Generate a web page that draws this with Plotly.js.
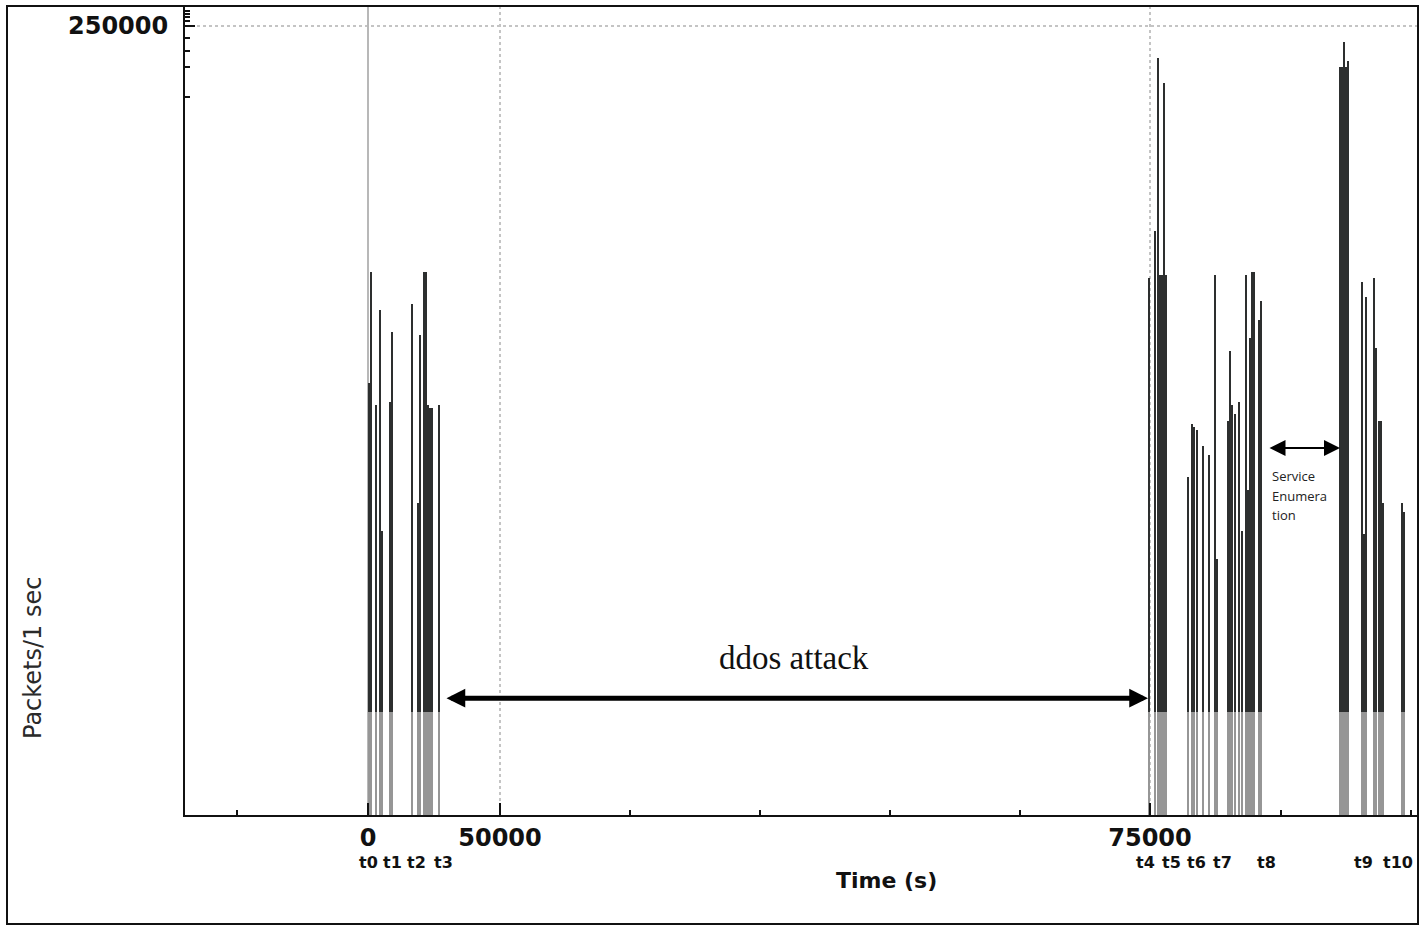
<!DOCTYPE html>
<html>
<head>
<meta charset="utf-8">
<script src="https://cdn.plot.ly/plotly-3.0.1.min.js"></script>
<style>
html,body{margin:0;padding:0;background:#fff;}
#chart{width:1425px;height:926px;}
</style>
</head>
<body>
<div id="chart"></div>
<script>
// ---- data (time positions are in axis units of the drawn time scale) ----
const group1Time = [1, 3, 8, 12, 14, 22, 24, 44, 50, 52, 56, 58, 60, 62, 64, 71];
const group1Packets = [137000, 172000, 130000, 160000, 90000, 131000, 153000, 162000, 99000, 152000, 172000, 172000, 130000, 129000, 129000, 130000];

const group2Time = [781, 787, 790, 792, 794, 796, 798, 820, 824, 826, 829, 835, 841, 847, 849, 860, 862, 864, 867, 871, 874, 878, 880, 882, 884, 886, 891, 893];
const group2Packets = [170000, 185000, 240000, 171000, 171000, 232000, 171000, 107000, 124000, 123000, 122000, 117000, 114000, 171000, 81000, 125000, 147000, 130000, 127000, 131000, 90000, 171000, 103000, 151000, 172000, 172000, 157000, 163000];

const group3Time = [972, 974, 976, 978, 980, 994, 996, 998, 1006, 1008, 1011, 1013, 1015, 1034, 1036];
const group3Packets = [237000, 237000, 245000, 237000, 239000, 169000, 89000, 164000, 170000, 148000, 125000, 125000, 99000, 99000, 96000];

const xTickPositions = [0, 132, 782];
const xTickLabels = ['0', '50000', '75000'];
const xMinorTicks = [-131, 262, 392, 522, 652, 913, 1043];
const yTickValues = [250000];
const yTickLabels = ['250000'];
const yMinorTicks = [254900, 253800, 252800, 251600, 246200, 242000, 236900, 227400];

const eventLabels = ['t0', 't1', 't2', 't3', 't4', 't5', 't6', 't7', 't8', 't9', 't10'];
const eventTimes = [0, 24, 48, 75, 777, 803, 828, 854, 898, 995, 1030];

const serviceNoteLines = ['Service', 'Enumera', 'tion'];

const lowBandLevel = 32600;

// ---- build ----
const allTime = group1Time.concat(group2Time, group3Time);
const allPackets = group1Packets.concat(group2Packets, group3Packets);

const W = 1425, H = 926;
const M = {l: 185, r: 7, t: 6, b: 111};
const PW = W - M.l - M.r, PH = H - M.t - M.b;
const px2paperX = px => (px - M.l) / PW;
const py2paperY = py => (H - M.b - py) / PH;

const barW = 2.3;
const lowTrace = {
  type: 'bar', x: allTime,
  y: allPackets.map(v => Math.min(v, lowBandLevel)),
  width: barW, marker: {color: '#969696', line: {width: 0}},
  hoverinfo: 'skip', showlegend: false
};
const highTrace = {
  type: 'bar', x: allTime,
  base: allPackets.map(v => lowBandLevel),
  y: allPackets.map(v => Math.max(v - lowBandLevel, 0)),
  width: barW, marker: {color: '#2d2f2f', line: {width: 0}},
  hoverinfo: 'skip', showlegend: false
};

const font = 'DejaVu Sans, Liberation Sans, Arial, sans-serif';

const annotations = [];
eventLabels.forEach((t, i) => {
  annotations.push({
    x: eventTimes[i], xref: 'x', y: py2paperY(862), yref: 'paper',
    text: t, showarrow: false, xanchor: 'center', yanchor: 'middle',
    font: {family: font, size: 16, color: '#111', weight: 'bold'}
  });
});
annotations.push({
  x: px2paperX(886), xref: 'paper', y: py2paperY(880), yref: 'paper',
  text: 'Time (s)', showarrow: false, xanchor: 'center', yanchor: 'middle',
  font: {family: font, size: 22, color: '#111', weight: 'bold'}
});
annotations.push({
  x: px2paperX(33), xref: 'paper', y: py2paperY(658), yref: 'paper',
  text: 'Packets/1 sec', textangle: -90, showarrow: false, xanchor: 'center', yanchor: 'middle',
  font: {family: font, size: 24, color: '#2a2a2a'}
});
annotations.push({
  x: px2paperX(794), xref: 'paper', y: py2paperY(658), yref: 'paper',
  text: 'ddos attack', showarrow: false, xanchor: 'center', yanchor: 'middle',
  font: {family: 'Liberation Serif, Times New Roman, serif', size: 33, color: '#111'}
});
// ddos arrow
annotations.push({
  x: 780, y: 37000, xref: 'x', yref: 'y',
  ax: 77, ay: 37000, axref: 'x', ayref: 'y',
  text: '', showarrow: true, arrowhead: 2, startarrowhead: 2, arrowside: 'end+start',
  arrowwidth: 5, arrowsize: 0.75, startarrowsize: 0.75, arrowcolor: '#000'
});
// service enumeration arrow
annotations.push({
  x: 972, y: 116300, xref: 'x', yref: 'y',
  ax: 900, ay: 116300, axref: 'x', ayref: 'y',
  text: '', showarrow: true, arrowhead: 2, startarrowhead: 2, arrowside: 'end+start',
  arrowwidth: 2, arrowsize: 1.6, startarrowsize: 1.6, arrowcolor: '#000'
});
serviceNoteLines.forEach((line, i) => {
  annotations.push({
    x: px2paperX(1270), xref: 'paper', y: py2paperY(476 + i * 19.5), yref: 'paper',
    text: line, showarrow: false, xanchor: 'left', yanchor: 'middle', align: 'left',
    font: {family: 'Open Sans, Noto Sans, sans-serif', size: 13, color: '#222'}
  });
});

const shapes = [{
  type: 'rect', xref: 'paper', yref: 'paper',
  x0: px2paperX(7), x1: px2paperX(1418), y0: py2paperY(924), y1: py2paperY(6),
  line: {color: '#111', width: 2}, fillcolor: 'rgba(0,0,0,0)', layer: 'above'
}];

const layout = {
  width: W, height: H, margin: M,
  paper_bgcolor: '#fff', plot_bgcolor: '#fff',
  barmode: 'overlay', bargap: 0,
  xaxis: {
    range: [-M.l + 2, 1050], showline: true, linecolor: '#111', linewidth: 2,
    tickmode: 'array', tickvals: xTickPositions, ticktext: xTickLabels,
    ticks: 'inside', ticklen: 12, tickwidth: 2, tickcolor: '#111',
    tickfont: {family: font, size: 24, color: '#111', weight: 'bold'},
    showgrid: true, gridcolor: '#c4c4c4', gridwidth: 1.5, griddash: 'dot',
    zeroline: true, zerolinecolor: '#b8b8b8', zerolinewidth: 2,
    minor: {tickmode: 'array', tickvals: xMinorTicks, ticks: 'inside', ticklen: 5, tickwidth: 2, tickcolor: '#111', showgrid: false},
    fixedrange: true
  },
  yaxis: {
    range: [0, 256337], showline: true, linecolor: '#111', linewidth: 2,
    tickmode: 'array', tickvals: yTickValues, ticktext: yTickLabels,
    ticks: 'inside', ticklen: 10, tickwidth: 2, tickcolor: '#111',
    ticklabelstandoff: 10,
    tickfont: {family: font, size: 24, color: '#111', weight: 'bold'},
    showgrid: true, gridcolor: '#c4c4c4', gridwidth: 1.5, griddash: 'dot',
    zeroline: false,
    minor: {tickmode: 'array', tickvals: yMinorTicks, ticks: 'inside', ticklen: 5, tickwidth: 2, tickcolor: '#111', showgrid: false},
    fixedrange: true
  },
  annotations: annotations,
  shapes: shapes
};

Plotly.newPlot('chart', [lowTrace, highTrace], layout, {displayModeBar: false, staticPlot: true});
</script>
</body>
</html>
